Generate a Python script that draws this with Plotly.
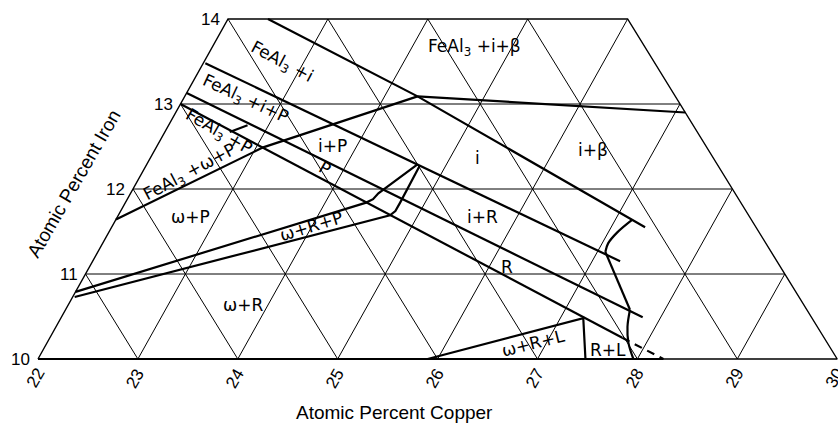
import numpy as np
import plotly.graph_objects as go

# ---------------- data (atomic percent) ----------------
cu_ticks = [22, 23, 24, 25, 26, 27, 28, 29, 30]
fe_ticks = [10, 11, 12, 13, 14]
al_right_edge = 60          # right edge of the section is Al = 60 at.%
cu_title = "Atomic Percent Copper"
fe_title = "Atomic Percent Iron"

# phase boundaries: (Cu at.%, Fe at.%)
i_upper_cu = [22.40, 24.33, 27.34]
i_upper_fe = [14.00, 13.09, 11.55]
beta_cu = [24.33, 27.10]
beta_fe = [13.09, 12.90]
i_lower_cu = [22.02, 27.28]
i_lower_fe = [13.48, 11.15]
p_upper_cu = [22.00, 27.82]
p_upper_fe = [13.13, 10.49]
p_lower_cu = [22.00, 27.73]
p_lower_fe = [13.00, 10.25]
p_lower_dash_cu = [27.73, 28.26]
p_lower_dash_fe = [10.25, 10.00]
feal3_cu = [22.00, 23.07, 24.33]
feal3_fe = [11.64, 12.49, 13.09]
leader_cu = [22.65, 22.79]
leader_fe = [12.67, 12.75]
wrp_upper_cu = [22.00, 24.41, 24.46, 24.48, 24.71]
wrp_upper_fe = [10.79, 11.84, 11.88, 11.95, 12.29]
wrp_lower_cu = [22.02, 24.72, 24.75, 24.75, 24.74]
wrp_lower_fe = [10.73, 11.69, 11.74, 11.84, 12.27]
ir_arc_cu = [27.17, 27.09, 27.06, 27.08]
ir_arc_fe = [11.64, 11.49, 11.36, 11.26]
ir_line_cu = [27.08, 27.65]
ir_line_fe = [11.26, 10.58]
ir_low_cu = [27.65, 27.72, 27.82, 27.96]
ir_low_fe = [10.58, 10.38, 10.19, 10.00]
wrl_cu = [25.90, 27.23, 27.48]
wrl_fe = [10.00, 10.48, 10.00]
base_thick_cu = [22.0, 28.26]
base_thick_fe = [10.0, 10.0]

# region labels
lab_text = ["FeAl<sub>3</sub> +i+β", "FeAl<sub>3</sub> +i", "FeAl<sub>3</sub> +i+P",
            "FeAl<sub>3</sub> +P", "FeAl<sub>3</sub> +ω+P", "i+P", "P", "i", "i+β",
            "i+R", "R", "ω+P", "ω+R+P", "ω+R", "ω+R+L", "R+L"]
lab_cu = [24.63, 22.78, 22.62, 22.54, 22.48, 23.75, 23.80, 25.28, 26.39,
          25.66, 26.18, 22.73, 24.00, 23.75, 26.87, 27.65]
lab_fe = [13.66, 13.49, 13.05, 12.67, 12.20, 12.51, 12.25, 12.36, 12.46,
          11.67, 11.08, 11.67, 11.56, 10.64, 10.19, 10.11]
lab_angle = [0, 28, 25, 30, -28, 0, 30, 0, 0, 0, 0, 0, -17, 0, -14, 0]

# ---------------- projection of the ternary section ----------------
CU0, FE0 = cu_ticks[0], fe_ticks[0]
SKEW = 0.4755   # horizontal shift (in Cu units) per 1 at.% Fe


def to_xy(cu, fe):
    cu = np.asarray(cu, dtype=float)
    fe = np.asarray(fe, dtype=float)
    return (cu - CU0) + SKEW * (fe - FE0), fe - FE0


fig = go.Figure()


def add_line(cu, fe, width=2.2, dash="solid", shape="linear", color="black"):
    x, y = to_xy(cu, fe)
    fig.add_trace(go.Scatter(x=x, y=y, mode="lines",
                             line=dict(color=color, width=width, dash=dash, shape=shape),
                             hoverinfo="skip", showlegend=False))


fe_min, fe_max = fe_ticks[0], fe_ticks[-1]
cu_min, cu_max = cu_ticks[0], cu_ticks[-1]
total_right = 100 - al_right_edge   # Cu + Fe on the right edge

# grid
gx, gy = [], []


def seg(c1, f1, c2, f2):
    x, y = to_xy([c1, c2], [f1, f2])
    gx.extend(list(x) + [None])
    gy.extend(list(y) + [None])


for fe in fe_ticks[1:-1]:
    seg(cu_min, fe, total_right - fe, fe)
for c in cu_ticks[1:-1]:
    seg(c, fe_min, c, min(fe_max, total_right - c))
for c in cu_ticks[1:-1]:
    fe_end = min(fe_max, fe_min + (c - cu_min))
    seg(c, fe_min, c - (fe_end - fe_min), fe_end)
fig.add_trace(go.Scatter(x=gx, y=gy, mode="lines", line=dict(color="black", width=1),
                         hoverinfo="skip", showlegend=False))

# outline
oc = [cu_min, cu_max, total_right - fe_max, cu_min, cu_min]
of = [fe_min, fe_min, fe_max, fe_max, fe_min]
add_line(oc, of, width=1.4)

# boundaries
add_line(base_thick_cu, base_thick_fe, width=2.2)
for cu, fe in [(i_upper_cu, i_upper_fe), (beta_cu, beta_fe), (i_lower_cu, i_lower_fe),
               (p_upper_cu, p_upper_fe), (p_lower_cu, p_lower_fe), (feal3_cu, feal3_fe),
               (leader_cu, leader_fe), (wrp_upper_cu, wrp_upper_fe),
               (wrp_lower_cu, wrp_lower_fe), (ir_line_cu, ir_line_fe), (wrl_cu, wrl_fe)]:
    add_line(cu, fe)
add_line(ir_arc_cu, ir_arc_fe, shape="spline")
add_line(ir_low_cu, ir_low_fe, shape="spline")
add_line(p_lower_dash_cu, p_lower_dash_fe, dash="8px,6px")

annotations = []
lab_font = dict(family="DejaVu Sans", size=17, color="black")
for t, c, f, a in zip(lab_text, lab_cu, lab_fe, lab_angle):
    x, y = to_xy(c, f)
    annotations.append(dict(x=float(x), y=float(y), text=t, showarrow=False,
                            textangle=a, font=lab_font, xanchor="center", yanchor="middle"))

tick_font = dict(family="Liberation Sans", size=17, color="black")
for fe in fe_ticks:
    x, y = to_xy(cu_min, fe)
    annotations.append(dict(x=float(x), y=float(y), text=str(fe), showarrow=False,
                            font=tick_font, xanchor="right", yanchor="middle", xshift=-6))
for c in cu_ticks:
    x, y = to_xy(c, fe_min)
    annotations.append(dict(x=float(x), y=float(y), text=str(c), showarrow=False,
                            font=tick_font, textangle=-60, xanchor="center",
                            yanchor="middle", yshift=-19, xshift=-3))

title_font = dict(family="Liberation Sans", size=19, color="black")
annotations.append(dict(x=0.471, y=0.024, xref="paper", yref="paper", text=cu_title,
                        showarrow=False, font=title_font, xanchor="center", yanchor="middle"))
annotations.append(dict(x=0.088, y=0.567, xref="paper", yref="paper", text=fe_title,
                        showarrow=False, font=title_font, textangle=-60,
                        xanchor="center", yanchor="middle"))

W, H = 838, 423
PX_X, PX_Y = 99.9, 85.0
X0_PIX, Y0_PIX = 38, 359
fig.update_layout(
    width=W, height=H, margin=dict(l=0, r=0, t=0, b=0),
    paper_bgcolor="white", plot_bgcolor="white",
    xaxis=dict(range=[-X0_PIX / PX_X, (W - X0_PIX) / PX_X], visible=False, fixedrange=True),
    yaxis=dict(range=[(Y0_PIX - H) / PX_Y, Y0_PIX / PX_Y], visible=False, fixedrange=True),
    annotations=annotations, showlegend=False,
)
fig.write_html("out.html", config={"displayModeBar": False},
               post_script="document.body.style.margin='0';document.body.style.overflow='hidden';")
